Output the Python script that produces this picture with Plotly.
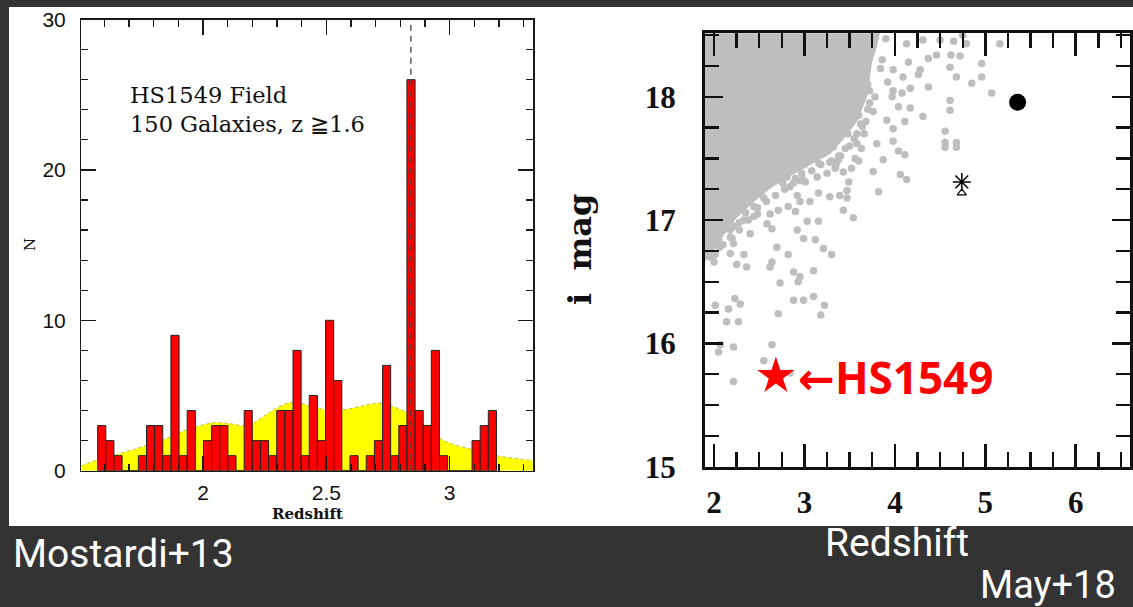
import numpy as np
import plotly.graph_objects as go

W, H = 1133, 607

# ---------------- left panel: HS1549 field redshift histogram ----------------
bin_start = 1.573
bin_width = 0.033
counts = [3, 2, 1, 0, 0, 1, 3, 3, 1, 9, 1, 4, 0, 2, 3, 3, 1,
          0, 4, 2, 2, 1, 4, 4, 8, 1, 5, 2, 10, 6, 0, 1, 0, 1, 2, 7,
          1, 3, 26, 4, 3, 8, 1, 0, 0, 0, 2, 3, 4]
bin_centers = [round(bin_start + bin_width * (k + 0.5), 4) for k in range(len(counts))]

sel_z = [1.507, 1.574, 1.675, 1.736, 1.837, 1.931, 1.999, 2.053, 2.121, 2.164, 2.204,
         2.245, 2.299, 2.353, 2.394, 2.434, 2.488, 2.556, 2.623, 2.677, 2.731, 2.765,
         2.819, 2.87, 2.91, 2.96, 3.009, 3.090, 3.143, 3.197, 3.278, 3.339]
sel_n = [0.33, 0.72, 1.2, 1.5, 2.04, 2.7, 3.04, 3.2, 3.1, 2.98, 3.16,
         3.6, 4.16, 4.53, 4.49, 4.3, 4.09, 4.04, 4.22, 4.42, 4.49, 4.3,
         3.93, 3.4, 2.9, 2.15, 1.78, 1.42, 1.2, 0.98, 0.8, 0.67]

z_spike = 2.843
hist_xrange = [1.507, 3.339]
hist_yrange = [0, 30]

# ---------------- right panel: i mag vs redshift ----------------
cloud_x = [1.85, 3.84, 3.79, 3.73, 3.68, 3.57, 3.45, 3.28, 3.06, 2.84, 2.62,
           2.42, 2.23, 2.09, 1.98, 1.90, 1.85]
cloud_y = [18.6, 18.6, 18.42, 18.28, 18.01, 17.81, 17.69, 17.55, 17.46, 17.37, 17.27,
           17.15, 17.02, 16.88, 16.75, 16.68, 16.64]

field_x = [4.15, 4.28, 4.37, 4.46, 4.61, 4.62, 4.72, 4.68, 4.96, 4.96, 4.85, 5.07,
           4.37, 4.26, 4.09, 3.98, 4.17, 4.08, 3.98, 3.97, 4.61, 4.61, 4.17, 4.04,
           4.31, 4.11, 3.91, 3.98, 4.555, 3.84, 3.76, 4.31, 4.13, 4.50, 4.65, 4.79,
           5.16, 4.75,
           3.80, 3.98, 4.555, 4.555, 4.68, 4.68, 4.04, 4.11, 3.87, 3.63, 3.56, 3.60,
           3.52, 3.76, 4.06, 4.13, 3.49, 3.82, 3.47, 3.54,
           2.805, 2.84, 2.95, 3.01, 3.14, 3.25, 3.34, 3.43, 3.28, 3.375, 3.21, 3.32,
           3.155, 3.28, 3.39, 3.47, 3.43, 2.92, 2.95, 3.06, 2.82, 2.90, 3.03, 3.155,
           2.92, 3.12, 2.99, 2.71, 2.62, 2.585, 2.64, 2.44, 2.44, 2.33, 2.29, 2.40,
           2.23, 2.18, 2.215, 2.05, 2.695,
           2.013, 2.18, 2.33, 2.25, 2.36, 2.64, 2.62, 2.82, 2.88, 2.95, 2.93, 3.10,
           3.21, 3.30, 2.73, 2.23, 2.29, 2.013, 2.16, 2.88, 2.99, 3.10, 3.22, 3.18,
           2.71, 2.14, 2.27, 2.215, 2.05, 2.07, 2.64, 2.55, 2.84, 2.215,
           3.70, 3.66, 3.60, 3.48, 3.22, 3.05, 2.86, 2.68, 2.50, 2.32, 2.14, 2.02,
           1.96, 2.10, 2.60, 3.00, 3.74, 3.90, 3.58, 2.40, 2.76,
           3.72, 3.64, 3.55, 3.40, 3.16, 2.97, 2.76, 2.55, 2.35, 2.18, 3.86, 3.92,
           3.68, 3.50, 3.35, 2.90, 2.48, 2.28, 2.06,
           3.72, 3.70, 3.62, 3.55, 3.66, 3.58, 3.45, 3.38, 3.30, 3.18, 3.08, 2.98,
           2.88, 2.78, 2.68, 2.58, 2.48, 2.38, 2.28, 2.20, 2.10, 2.00, 3.78, 3.52]
field_y = [18.28, 18.22, 18.31, 18.34, 18.24, 18.34, 18.33, 18.16, 18.27, 18.16, 18.11, 18.03,
           18.08, 18.18, 18.16, 18.22, 18.07, 18.03, 18.05, 18.00, 17.97, 17.89, 17.91, 17.92,
           17.84, 17.80, 17.81, 17.74, 17.72, 18.23, 17.88, 18.46, 18.43, 18.46, 18.45, 18.43,
           18.43, 18.50,
           17.62, 17.64, 17.63, 17.59, 17.63, 17.59, 17.56, 17.53, 17.49, 17.58, 17.50, 17.48,
           17.42, 17.395, 17.37, 17.33, 17.31, 17.23, 17.18, 17.02,
           17.35, 17.27, 17.32, 17.31, 17.35, 17.38, 17.42, 17.39, 17.47, 17.49, 17.54, 17.595,
           17.22, 17.19, 17.20, 17.24, 17.08, 17.20, 17.15, 17.15, 17.11, 17.07, 16.99, 16.99,
           16.92, 16.84, 16.85, 17.08, 17.05, 16.97, 16.93, 17.11, 17.03, 17.00, 17.12, 16.89,
           16.95, 16.86, 16.81, 16.84, 16.78,
           16.72, 16.73, 16.72, 16.64, 16.62, 16.66, 16.62, 16.72, 16.58, 16.54, 16.50, 16.59,
           16.77, 16.72, 16.49, 16.365, 16.32, 16.31, 16.28, 16.35, 16.35, 16.38, 16.31, 16.23,
           16.24, 16.175, 16.175, 15.97, 15.93, 15.99, 15.99, 15.86, 15.76, 15.69,
           18.10, 18.20, 17.85, 17.70, 17.55, 17.49, 17.44, 17.36, 17.25, 17.14, 17.03, 16.90,
           16.70, 16.95, 17.28, 17.45, 18.38, 18.47, 17.70, 17.18, 17.40,
           17.95, 17.76, 17.66, 17.52, 17.46, 17.38, 17.30, 17.18, 17.06, 16.92, 18.30, 18.12,
           17.80, 17.60, 17.45, 17.34, 17.10, 16.98, 16.78,
           18.05, 17.90, 17.78, 17.90, 17.70, 17.62, 17.58, 17.52, 17.48, 17.45, 17.40, 17.33,
           17.30, 17.25, 17.20, 17.15, 17.05, 17.00, 16.92, 16.85, 16.80, 16.66, 18.00, 17.82]

hs1549_z, hs1549_i = [2.684], [15.735]
circle_z, circle_i = [5.357], [17.955]
aster_z, aster_i = [4.74], [17.31]
tri_z, tri_i = [4.74], [17.22]

mag_xrange = [1.9, 6.60]
mag_yrange = [15.0, 18.515]

# ---------------- figure ----------------
def fx(px):
    return px / W

def fy(py):
    return 1 - py / H

fig = go.Figure()

# left panel: selection function on base axes, bars on an overlay so they sit above it
fig.add_trace(go.Scatter(x=sel_z, y=sel_n, mode="lines", fill="tozeroy",
                         line=dict(color="rgba(170,170,60,0.8)", width=1, dash="dot", shape="spline"),
                         fillcolor="#FFFF00", xaxis="x", yaxis="y", hoverinfo="skip"))
fig.add_trace(go.Bar(x=bin_centers, y=counts, width=bin_width,
                     marker=dict(color="#FF0000", line=dict(color="#222222", width=1)),
                     xaxis="x3", yaxis="y3"))
fig.add_trace(go.Scatter(x=[z_spike, z_spike], y=hist_yrange, mode="lines",
                         line=dict(color="#444444", width=1.3, dash="6px,5px"),
                         xaxis="x3", yaxis="y3"))

# right panel traces
gray = "#BEBEBE"
fig.add_trace(go.Scatter(x=cloud_x, y=cloud_y, mode="lines", fill="toself",
                         fillcolor=gray, line=dict(color=gray, width=3),
                         xaxis="x2", yaxis="y2"))
fig.add_trace(go.Scatter(x=field_x, y=field_y, mode="markers",
                         marker=dict(color=gray, size=7.5),
                         xaxis="x2", yaxis="y2"))
fig.add_trace(go.Scatter(x=circle_z, y=circle_i, mode="markers",
                         marker=dict(color="black", size=17),
                         xaxis="x2", yaxis="y2"))
fig.add_trace(go.Scatter(x=aster_z, y=aster_i, mode="markers",
                         marker=dict(symbol="asterisk-open", size=15, color="black",
                                     line=dict(color="black", width=1.5)),
                         xaxis="x2", yaxis="y2"))
fig.add_trace(go.Scatter(x=tri_z, y=tri_i, mode="markers",
                         marker=dict(symbol="triangle-up-open", size=8, color="black",
                                     line=dict(color="black", width=1.2)),
                         xaxis="x2", yaxis="y2"))
fig.add_trace(go.Scatter(x=hs1549_z, y=hs1549_i, mode="markers",
                         marker=dict(symbol="star", size=28, color="#FF0000",
                                     line=dict(width=0)),
                         xaxis="x2", yaxis="y2", cliponaxis=False))

axis_dark = "#1a1a1a"
left_tickfont = dict(family="Liberation Sans, Arial, sans-serif", size=21, color="#111111")
right_tickfont = dict(family="Liberation Serif, serif", size=31, color="#111111", weight="bold")

left_x_dom = [fx(81.4), fx(533.2)]
left_y_dom = [fy(470.7), fy(19.5)]

fig.update_layout(
    width=W, height=H,
    margin=dict(l=0, r=0, t=0, b=0, pad=0, autoexpand=False),
    paper_bgcolor="#333333",
    plot_bgcolor="rgba(0,0,0,0)",
    showlegend=False,
    bargap=0,
    xaxis=dict(domain=left_x_dom, range=hist_xrange, anchor="y", automargin=False,
               showgrid=False, zeroline=False, showline=True, linecolor=axis_dark, linewidth=1.4,
               mirror="ticks", ticks="inside", ticklen=15, tickwidth=1.3, tickcolor=axis_dark,
               tick0=0, dtick=0.5, tickfont=left_tickfont, ticklabelstandoff=3,
               minor=dict(ticks="inside", dtick=0.1, ticklen=7, tickwidth=1.2,
                          tickcolor=axis_dark, showgrid=False)),
    yaxis=dict(domain=left_y_dom, range=hist_yrange, anchor="x", automargin=False,
               showgrid=False, zeroline=False, showline=True, linecolor=axis_dark, linewidth=1.4,
               mirror="ticks", ticks="inside", ticklen=15, tickwidth=1.3, tickcolor=axis_dark,
               tick0=0, dtick=10, tickfont=left_tickfont, ticklabelstandoff=10,
               minor=dict(ticks="inside", dtick=2, ticklen=7, tickwidth=1.2,
                          tickcolor=axis_dark, showgrid=False)),
    xaxis3=dict(domain=left_x_dom, range=hist_xrange, anchor="y3", overlaying="x",
                visible=False, automargin=False),
    yaxis3=dict(domain=left_y_dom, range=hist_yrange, anchor="x3", overlaying="y",
                visible=False, automargin=False),
    xaxis2=dict(domain=[fx(705), fx(1130)], range=mag_xrange, anchor="y2", automargin=False,
                showgrid=False, zeroline=False, showline=True, linecolor="#111111", linewidth=3,
                mirror="ticks", ticks="inside", ticklen=23, tickwidth=2.6, tickcolor="#111111",
                tick0=0, dtick=1, tickfont=right_tickfont, ticklabelstandoff=6,
                minor=dict(ticks="inside", dtick=0.25, ticklen=15, tickwidth=2.4,
                           tickcolor="#111111", showgrid=False)),
    yaxis2=dict(domain=[fy(466.7), fy(33.3)], range=mag_yrange, anchor="x2", automargin=False,
                showgrid=False, zeroline=False, showline=True, linecolor="#111111", linewidth=3,
                mirror="ticks", ticks="inside", ticklen=18, tickwidth=2.6, tickcolor="#111111",
                tick0=0, dtick=1, tickfont=right_tickfont, ticklabelstandoff=20,
                minor=dict(ticks="inside", dtick=0.25, ticklen=14, tickwidth=2.4,
                           tickcolor="#111111", showgrid=False)),
    shapes=[dict(type="rect", xref="paper", yref="paper", layer="below",
                 x0=fx(9), x1=fx(1133), y0=fy(526), y1=fy(7),
                 fillcolor="white", line=dict(width=0))],
)

serif = "DejaVu Serif, serif"
white_font = dict(family="Roboto, sans-serif", size=39, color="white")
annotations = [
    dict(text="HS1549 Field<br>150 Galaxies, z \u22671.6", xref="paper", yref="paper",
         x=fx(128), y=fy(80), xanchor="left", yanchor="top", align="left", showarrow=False,
         font=dict(family=serif, size=22.5, color="#111111")),
    dict(text="N", xref="paper", yref="paper", x=fx(30), y=fy(245), textangle=-90,
         xanchor="center", yanchor="middle",
         showarrow=False, font=dict(family=serif, size=15, color="#111111")),
    dict(text="<b>Redshift</b>", xref="paper", yref="paper", x=fx(307), y=fy(514),
         xanchor="center", yanchor="middle",
         showarrow=False, font=dict(family=serif, size=15, color="#111111")),
    dict(text="<b>i\u00a0\u00a0mag</b>", xref="paper", yref="paper", x=fx(580), y=fy(250),
         xanchor="center", yanchor="middle",
         textangle=-90, showarrow=False, font=dict(family=serif, size=32, color="#111111")),
    dict(text="<b><span style=\"font-family:'DejaVu Sans'\">\u2190</span>HS1549</b>",
         xref="x2", yref="y2", x=hs1549_z[0], y=hs1549_i[0],
         xanchor="left", yanchor="middle", xshift=20, yshift=-1, showarrow=False,
         font=dict(family="Open Sans, Noto Sans, sans-serif", size=44, color="#FF0000")),
    dict(text="Mostardi+13", xref="paper", yref="paper", x=fx(11), y=fy(554),
         xanchor="left", yanchor="middle", showarrow=False, font=white_font),
    dict(text="Redshift", xref="paper", yref="paper", x=fx(897), y=fy(543),
         xanchor="center", yanchor="middle", showarrow=False, font=white_font),
    dict(text="May+18", xref="paper", yref="paper", x=fx(1048), y=fy(585),
         xanchor="center", yanchor="middle", showarrow=False,
         font=dict(family="Roboto, sans-serif", size=38, color="white")),
]
fig.update_layout(annotations=annotations)

fig.write_html("out.html",
               config={"displayModeBar": False, "staticPlot": True},
               post_script="document.body.style.margin='0';document.body.style.padding='0';"
                           "document.body.style.overflow='hidden';")
